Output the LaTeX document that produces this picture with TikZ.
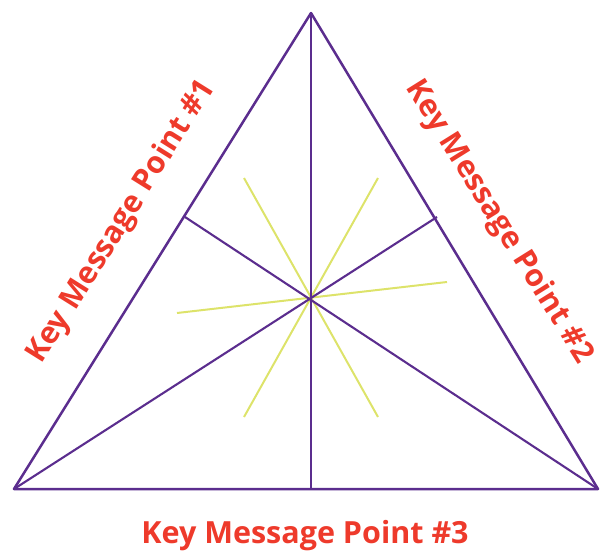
\documentclass[tikz,border=0pt]{standalone}
\usepackage{fontspec}
\setmainfont{Open Sans}[BoldFont={* Bold}]
\definecolor{tripurple}{HTML}{5B2D8E}
\definecolor{rayyellow}{HTML}{DDE36A}
\definecolor{msgred}{HTML}{EE3A2B}
\begin{document}
\begin{tikzpicture}[x=1pt,y=-1pt,
  edge/.style={draw=tripurple,line width=2.5pt,line join=round},
  inner/.style={draw=tripurple,line width=2.1pt},
  ray/.style={draw=rayyellow,line width=2pt},
  msg/.style={text=msgred,font=\fontsize{30.5}{31}\selectfont\bfseries,inner sep=0pt,anchor=center}]
\useasboundingbox (0,0) rectangle (600,552);
\coordinate (A) at (311,13);
\coordinate (L) at (14,489);
\coordinate (R) at (598,489);
\coordinate (C) at (311,297);
\coordinate (FL) at (185,217);
\coordinate (FR) at (437,217);
\coordinate (FB) at (311,489);
\coordinate (y1a) at (244,178);
\coordinate (y1b) at (378,417);
\coordinate (y2a) at (378,178);
\coordinate (y2b) at (244,417);
\coordinate (y3a) at (177,313);
\coordinate (y3b) at (447,282);
\draw[ray] (y1a) -- (y1b);
\draw[ray] (y2a) -- (y2b);
\draw[ray] (y3a) -- (y3b);
\draw[inner] (A) -- (FB);
\draw[inner] (R) -- (FL);
\draw[inner] (L) -- (FR);
\draw[edge] (A) -- (L) -- (R) -- cycle;
\node[msg,rotate=58.0] (m1) at (122,222) {Key Message Point \#1};
\node[msg,rotate=-58.0] (m2) at (499,222) {Key Message Point \#2};
\node[msg] (m3) at (305,536) {Key Message Point \#3};
\end{tikzpicture}
\end{document}
